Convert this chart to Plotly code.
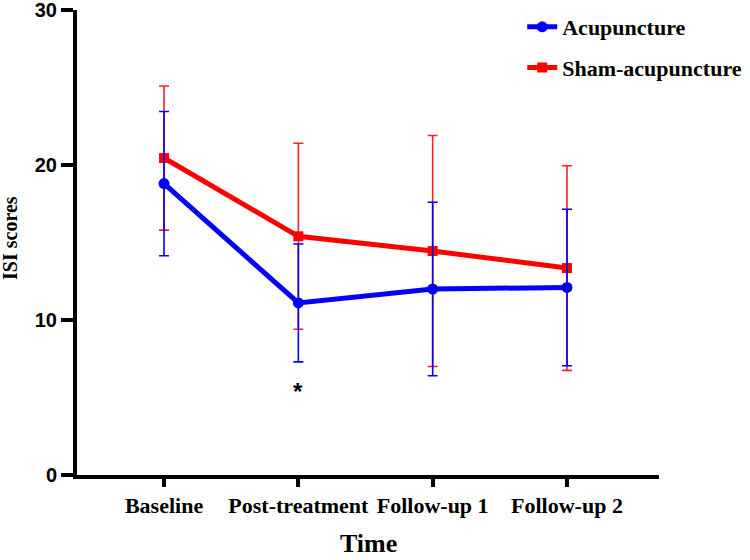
import plotly.graph_objects as go

categories = ["Baseline", "Post-treatment", "Follow-up 1", "Follow-up 2"]
acu_mean = [18.8, 11.1, 12.0, 12.1]
acu_sd = [4.65, 3.8, 5.6, 5.05]
sham_mean = [20.45, 15.4, 14.45, 13.35]
sham_sd = [4.65, 6.0, 7.45, 6.6]
y_ticks = [0, 10, 20, 30]
sig_label = "*"
sig_category = "Post-treatment"
sig_y = 5.4

SERIF = "Liberation Serif"
SANS = "Liberation Sans"

fig = go.Figure()
fig.add_trace(go.Scatter(
    x=categories, y=sham_mean, name="Sham-acupuncture", mode="lines+markers",
    line=dict(color="#FF0000", width=5),
    marker=dict(symbol="square", size=10, color="#FF0000"),
    error_y=dict(type="data", array=sham_sd, visible=True, color="#FF2020", thickness=1.6, width=5),
    legendgroup="b", legendrank=2,
))
fig.add_trace(go.Scatter(
    x=categories, y=acu_mean, name="Acupuncture", mode="lines+markers",
    line=dict(color="#0000FF", width=5),
    marker=dict(symbol="circle", size=11, color="#0000FF"),
    error_y=dict(type="data", array=acu_sd, visible=True, color="#0000FF", thickness=1.6, width=5),
    legendgroup="a", legendrank=1,
))

fig.add_annotation(x=sig_category, y=sig_y, text=sig_label, showarrow=False,
                   font=dict(family=SANS, size=24, color="black", weight="bold"))
fig.add_annotation(xref="paper", yref="paper", x=0.5, y=-0.147, text="<b>Time</b>", showarrow=False,
                   xanchor="center", yanchor="middle",
                   font=dict(family=SERIF, size=26, color="black"))
fig.add_annotation(xref="paper", yref="paper", x=-0.115, y=0.51, text="<b>ISI scores</b>", showarrow=False,
                   textangle=-90, xanchor="center", yanchor="middle",
                   font=dict(family=SERIF, size=20, color="black"))

fig.update_layout(
    width=750, height=560,
    font=dict(family=SERIF, color="black"),
    margin=dict(l=77, r=91, t=10, b=85, autoexpand=False),
    paper_bgcolor="white", plot_bgcolor="white",
    showlegend=True,
    legend=dict(x=0.765, y=1.0086, xanchor="left", yanchor="top",
                traceorder="grouped", tracegroupgap=9,
                font=dict(family=SERIF, size=22, color="black", weight="bold"),
                bgcolor="rgba(0,0,0,0)"),
    xaxis=dict(type="category", categoryorder="array", categoryarray=categories,
               range=[-0.648, 3.685], showline=True, linewidth=4, linecolor="black",
               ticks="outside", ticklen=8, tickwidth=4, tickcolor="black",
               showgrid=False, zeroline=False,
               tickfont=dict(family=SERIF, size=22, color="black", weight="bold")),
    yaxis=dict(range=[0, 30], tickvals=y_ticks, showline=True, linewidth=4, linecolor="black",
               ticks="outside", ticklen=12, tickwidth=4, tickcolor="black",
               showgrid=False, zeroline=False, ticklabeloverflow="allow",
               tickfont=dict(family=SANS, size=20, color="black", weight="bold")),
)

fig.write_html("out.html", config={"displayModeBar": False},
               post_script="document.body.style.margin='0';")
